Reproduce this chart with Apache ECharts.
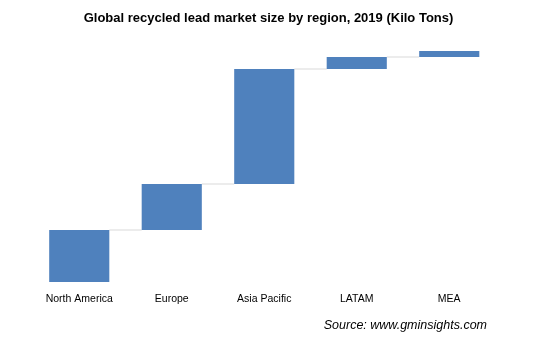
<!DOCTYPE html>
<html>
<head>
<meta charset="utf-8">
<script src="https://cdn.jsdelivr.net/npm/echarts@6/dist/echarts.min.js"></script>
<style>
  html, body { margin: 0; padding: 0; background: #fff; }
  #chart { width: 537px; height: 339px; }
</style>
</head>
<body>
<div id="chart"></div>
<script>
// Regional contributions to the global total (kilo tons, estimated)
const regions = ['North America', 'Europe', 'Asia Pacific', 'LATAM', 'MEA'];
const volumes = [1144, 1012, 2530, 264, 132];

// Waterfall: each bar starts where the previous one ended
const starts = [];
const ends = [];
let running = 0;
volumes.forEach(function (v) {
  starts.push(running);
  running += v;
  ends.push(running);
});

const barColor = '#4f81bd';
const connectorColor = '#d9d9d9';
const barWidthRatio = 0.65;

const chart = echarts.init(document.getElementById('chart'));

chart.setOption({
  animation: false,
  backgroundColor: '#ffffff',
  title: {
    text: 'Global recycled lead market size by region, 2019 (Kilo Tons)',
    left: 'center',
    top: 7,
    textStyle: {
      fontFamily: 'Liberation Sans, Arial, sans-serif',
      fontSize: 13,
      fontWeight: 'bold',
      color: '#000'
    }
  },
  graphic: [{
    type: 'text',
    right: 50,
    top: 319,
    style: {
      text: 'Source: www.gminsights.com',
      font: 'italic 12.5px "Liberation Sans", Arial, sans-serif',
      fill: '#000'
    }
  }],
  grid: { left: 33, right: 41.5, top: 41, bottom: 57 },
  xAxis: {
    type: 'category',
    data: regions,
    axisLine: { show: false },
    axisTick: { show: false },
    axisLabel: {
      margin: 12,
      fontFamily: 'Liberation Sans, Arial, sans-serif',
      fontSize: 10.5,
      color: '#000'
    }
  },
  yAxis: {
    type: 'value',
    min: 0,
    max: 5302,
    show: false,
    splitLine: { show: false }
  },
  series: [
    {
      name: 'base',
      type: 'bar',
      stack: 'wf',
      barWidth: (barWidthRatio * 100) + '%',
      itemStyle: { color: 'transparent' },
      emphasis: { disabled: true },
      data: starts
    },
    {
      name: 'volume',
      type: 'bar',
      stack: 'wf',
      barWidth: (barWidthRatio * 100) + '%',
      itemStyle: { color: barColor },
      data: volumes
    },
    {
      name: 'connector',
      type: 'custom',
      silent: true,
      z: 1,
      data: ends.slice(0, -1).map(function (v, i) { return [i, v]; }),
      renderItem: function (params, api) {
        const i = api.value(0);
        const level = api.value(1);
        const band = api.size([1, 0])[0];
        const half = band * barWidthRatio / 2;
        const p0 = api.coord([i, level]);
        const p1 = api.coord([i + 1, level]);
        return {
          type: 'line',
          shape: { x1: p0[0] + half, y1: p0[1], x2: p1[0] - half, y2: p1[1] },
          style: { stroke: connectorColor, lineWidth: 1.2 }
        };
      }
    }
  ]
});
</script>
</body>
</html>
